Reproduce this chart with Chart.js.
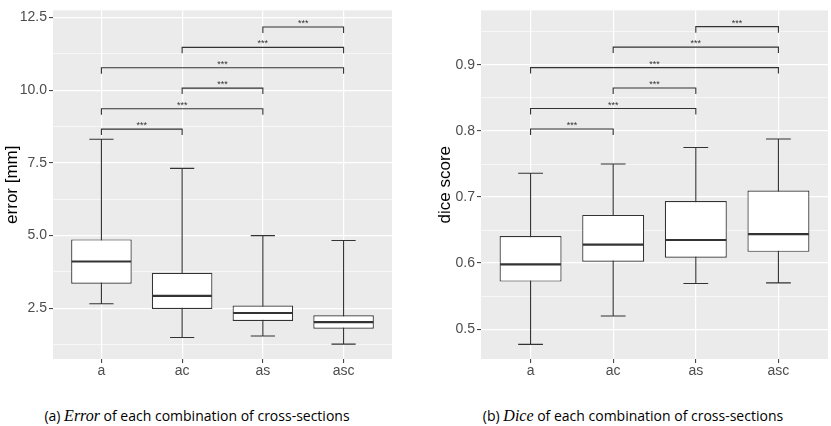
<!DOCTYPE html>
<html>
<head>
<meta charset="utf-8">
<script src="https://cdn.jsdelivr.net/npm/chart.js@4.4.1/dist/chart.umd.min.js"></script>
<style>
  body { margin: 0; background: #fff; width: 831px; height: 426px; position: relative; overflow: hidden; }
  .panel { position: absolute; top: 0; height: 380px; }
  #leftBox { left: 0; width: 400px; }
  #rightBox { left: 415px; width: 416px; }
  .caption { position: absolute; top: 406px; width: 400px; text-align: center; white-space: nowrap;
             font-family: "Open Sans", sans-serif; font-size: 14px; color: #000; }
  .caption i { font-family: "Liberation Serif", serif; font-size: 16px; }
</style>
</head>
<body>
<div class="panel" id="leftBox"><canvas id="errorChart"></canvas></div>
<div class="panel" id="rightBox"><canvas id="diceChart"></canvas></div>
<div class="caption" style="left:-3px">(a) <i>Error</i> of each combination of cross-sections</div>
<div class="caption" style="left:433px">(b) <i>Dice</i> of each combination of cross-sections</div>
<script>
// Categorías (combinaciones de cortes)
const categories = ["a", "ac", "as", "asc"];

// Error [mm]: bigote inferior, Q1, mediana, Q3, bigote superior
const errorLow = [2.66, 1.50, 1.55, 1.27];
const errorQ1 = [3.35, 2.48, 2.07, 1.80];
const errorMedian = [4.11, 2.93, 2.34, 2.03];
const errorQ3 = [4.87, 3.72, 2.60, 2.26];
const errorHigh = [8.31, 7.31, 5.00, 4.83];

// Dice score
const diceLow = [0.477, 0.520, 0.569, 0.570];
const diceQ1 = [0.572, 0.602, 0.608, 0.617];
const diceMedian = [0.598, 0.628, 0.635, 0.644];
const diceQ3 = [0.641, 0.673, 0.694, 0.710];
const diceHigh = [0.736, 0.750, 0.775, 0.788];

// Comparaciones de significancia (índices de categoría) y su altura
const pairs = [[0, 1], [0, 2], [1, 2], [0, 3], [1, 3], [2, 3]];
const pairLabels = ["***", "***", "***", "***", "***", "***"];
const errorBracketY = [8.66, 9.36, 10.07, 10.77, 11.47, 12.17];
const diceBracketY = [0.803, 0.834, 0.865, 0.896, 0.927, 0.958];

// Etiquetas de los ejes
const errorTicks = [2.5, 5.0, 7.5, 10.0, 12.5];
const diceTicks = [0.5, 0.6, 0.7, 0.8, 0.9];

// Plugin: fondo gris, bigotes, medianas y corchetes
function makeExtras(low, median, high, bracketY) {
  return {
    id: "boxExtras",
    beforeDraw(chart) {
      const a = chart.chartArea;
      const ctx = chart.ctx;
      ctx.save();
      ctx.fillStyle = "#EBEBEB";
      ctx.fillRect(a.left, a.top, a.right - a.left, a.bottom - a.top);
      ctx.restore();
    },
    beforeDatasetsDraw(chart) {
      const ctx = chart.ctx;
      const xs = chart.scales.x;
      const ys = chart.scales.y;
      const bars = chart.getDatasetMeta(0).data;
      ctx.save();
      ctx.strokeStyle = "#333333";
      ctx.lineWidth = 1.1;
      bars.forEach(function (bar, i) {
        const cx = xs.getPixelForValue(i + 1);
        const capL = xs.getPixelForValue(i + 1 - 0.15);
        const capR = xs.getPixelForValue(i + 1 + 0.15);
        const yLow = ys.getPixelForValue(low[i]);
        const yHigh = ys.getPixelForValue(high[i]);
        ctx.beginPath();
        ctx.moveTo(cx, yLow);
        ctx.lineTo(cx, yHigh);
        ctx.moveTo(capL, yLow);
        ctx.lineTo(capR, yLow);
        ctx.moveTo(capL, yHigh);
        ctx.lineTo(capR, yHigh);
        ctx.stroke();
      });
      ctx.restore();
    },
    afterDatasetsDraw(chart) {
      const ctx = chart.ctx;
      const xs = chart.scales.x;
      const ys = chart.scales.y;
      const bars = chart.getDatasetMeta(0).data;
      ctx.save();
      // medianas
      ctx.strokeStyle = "#333333";
      ctx.lineWidth = 2.2;
      bars.forEach(function (bar, i) {
        const y = ys.getPixelForValue(median[i]);
        ctx.beginPath();
        ctx.moveTo(bar.x - bar.width / 2 + 0.6, y);
        ctx.lineTo(bar.x + bar.width / 2 - 0.6, y);
        ctx.stroke();
      });
      // corchetes de significancia
      ctx.lineWidth = 1.1;
      ctx.fillStyle = "#333333";
      ctx.font = "9px 'Liberation Sans'";
      ctx.textAlign = "center";
      ctx.textBaseline = "alphabetic";
      const tip = 6;
      pairs.forEach(function (p, k) {
        const x1 = xs.getPixelForValue(p[0] + 1);
        const x2 = xs.getPixelForValue(p[1] + 1);
        const y = ys.getPixelForValue(bracketY[k]);
        ctx.beginPath();
        ctx.moveTo(x1, y + tip);
        ctx.lineTo(x1, y);
        ctx.lineTo(x2, y);
        ctx.lineTo(x2, y + tip);
        ctx.stroke();
        ctx.fillText(pairLabels[k], (x1 + x2) / 2, y - 1);
      });
      ctx.restore();
    }
  };
}

function isMajor(v, step) {
  const r = v / step;
  return Math.abs(r - Math.round(r)) < 1e-6;
}

function makeBoxChart(canvasId, opts) {
  const step = opts.ticks[1] - opts.ticks[0];
  // ticks mayores y menores (a mitad de camino)
  const allTicks = [];
  for (let v = opts.ticks[0] - step / 2; v <= opts.max; v += step / 2) {
    if (v >= opts.min) allTicks.push(Math.round(v * 1000) / 1000);
  }
  const font = { family: "'Liberation Sans', Arial, sans-serif", size: 14 };

  return new Chart(document.getElementById(canvasId), {
    type: "bar",
    data: {
      datasets: [{
        data: categories.map(function (c, i) { return { x: i + 1, y: [opts.q1[i], opts.q3[i]] }; }),
        backgroundColor: "#FFFFFF",
        borderColor: "#333333",
        borderWidth: 1.2,
        borderSkipped: false,
        barPercentage: 0.75,
        categoryPercentage: 1
      }]
    },
    options: {
      responsive: true,
      maintainAspectRatio: false,
      animation: false,
      events: [],
      layout: { padding: { top: 6, right: opts.rightPad, left: 0, bottom: 0 } },
      plugins: { legend: { display: false }, tooltip: { enabled: false } },
      scales: {
        x: {
          type: "linear",
          min: 0.4,
          max: 4.6,
          offset: false,
          afterBuildTicks: function (scale) {
            scale.ticks = categories.map(function (c, i) { return { value: i + 1 }; });
          },
          afterFit: function (scale) { scale.height = 21; },
          border: { display: false },
          grid: { offset: false, color: "#FFFFFF", lineWidth: 1.2, tickColor: "#333333", tickLength: 4, tickWidth: 1 },
          ticks: {
            autoSkip: false, maxRotation: 0, padding: 0, color: "#4D4D4D", font: font,
            callback: function (v) { return categories[Math.round(v) - 1]; }
          }
        },
        y: {
          min: opts.min,
          max: opts.max,
          afterBuildTicks: function (scale) {
            scale.ticks = allTicks.map(function (v) { return { value: v }; });
          },
          afterFit: function (scale) { scale.width = opts.yWidth; },
          border: { display: false },
          grid: {
            color: "#FFFFFF",
            lineWidth: function (c) { return c.tick && isMajor(c.tick.value, step) ? 1.2 : 0.6; },
            tickColor: function (c) { return c.tick && isMajor(c.tick.value, step) ? "#333333" : "rgba(0,0,0,0)"; },
            tickLength: 4,
            tickWidth: 1
          },
          ticks: {
            autoSkip: false, padding: 2, color: "#4D4D4D", font: font,
            callback: function (v) { return isMajor(v, step) ? v.toFixed(1) : ""; }
          },
          title: {
            display: true, text: opts.title, color: "#000000",
            font: { family: "'Liberation Sans', Arial, sans-serif", size: 17 },
            padding: { top: opts.titlePad, bottom: 0 }
          }
        }
      }
    },
    plugins: [makeExtras(opts.low, opts.median, opts.high, opts.bracketY)]
  });
}

makeBoxChart("errorChart", {
  low: errorLow, q1: errorQ1, median: errorMedian, q3: errorQ3, high: errorHigh,
  bracketY: errorBracketY, ticks: errorTicks, min: 0.76, max: 12.74,
  title: "error [mm]", yWidth: 53, titlePad: 2, rightPad: 8
});

makeBoxChart("diceChart", {
  low: diceLow, q1: diceQ1, median: diceMedian, q3: diceQ3, high: diceHigh,
  bracketY: diceBracketY, ticks: diceTicks, min: 0.4548, max: 0.9826,
  title: "dice score", yWidth: 66, titlePad: 20, rightPad: 3
});
</script>
</body>
</html>
